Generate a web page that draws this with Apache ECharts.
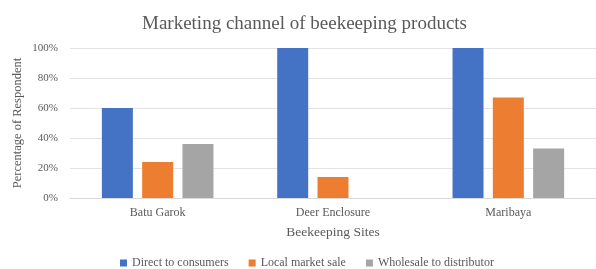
<!DOCTYPE html>
<html>
<head>
<meta charset="utf-8">
<script src="https://cdn.jsdelivr.net/npm/echarts@6/dist/echarts.min.js"></script>
<style>
  html, body { margin: 0; padding: 0; background: #fff; }
  #chart { width: 596px; height: 269px; }
</style>
</head>
<body>
<div id="chart"></div>
<script>
const sites = ['Batu Garok', 'Deer Enclosure', 'Maribaya'];
const direct = [60, 100, 100];
const localMarket = [24, 14, 67];
const wholesale = [36, 0, 33];
const seriesNames = ['Direct to consumers', 'Local market sale', 'Wholesale to distributor'];
const colors = ['#4472c4', '#ed7d31', '#a5a5a5'];

const font = '"Liberation Serif", "DejaVu Serif", serif';
const textGray = '#595959';

const chart = echarts.init(document.getElementById('chart'));

const makeBar = (name, data, color) => ({
    name: name,
    type: 'bar',
    data: data,
    barWidth: 31,
    barGap: '30%',
    itemStyle: { color: color },
    animation: false
});

chart.setOption({
    textStyle: { fontFamily: font },
    title: {
        text: 'Marketing channel of beekeeping products',
        left: 137,
        top: 10,
        textStyle: { fontFamily: font, fontSize: 19, fontWeight: 'normal', color: textGray }
    },
    legend: {
        top: 252,
        left: 115,
        itemWidth: 7,
        itemHeight: 7,
        itemGap: 20,
        icon: 'rect',
        textStyle: { fontFamily: font, fontSize: 12, color: textGray },
        data: seriesNames
    },
    grid: { left: 70, top: 48, width: 535, height: 150 },
    xAxis: {
        type: 'category',
        data: sites,
        name: 'Beekeeping Sites',
        nameLocation: 'middle',
        nameGap: 27,
        nameTextStyle: { fontFamily: font, fontSize: 13.5, color: textGray },
        axisLine: { lineStyle: { color: '#d9d9d9' } },
        axisTick: { show: false },
        axisLabel: { fontFamily: font, fontSize: 12, color: textGray, margin: 9 }
    },
    yAxis: {
        type: 'value',
        min: 0,
        max: 100,
        interval: 20,
        name: 'Percentage of Respondent',
        nameLocation: 'middle',
        nameGap: 46,
        nameMoveOverlap: false,
        nameTextStyle: { fontFamily: font, fontSize: 12.5, color: textGray },
        axisLine: { show: false },
        axisTick: { show: false },
        splitLine: { lineStyle: { color: '#e3e3e3' } },
        axisLabel: { fontFamily: font, fontSize: 11, color: textGray, formatter: '{value}%', margin: 12 }
    },
    series: [
        makeBar(seriesNames[0], direct, colors[0]),
        makeBar(seriesNames[1], localMarket, colors[1]),
        makeBar(seriesNames[2], wholesale, colors[2])
    ]
});
</script>
</body>
</html>
